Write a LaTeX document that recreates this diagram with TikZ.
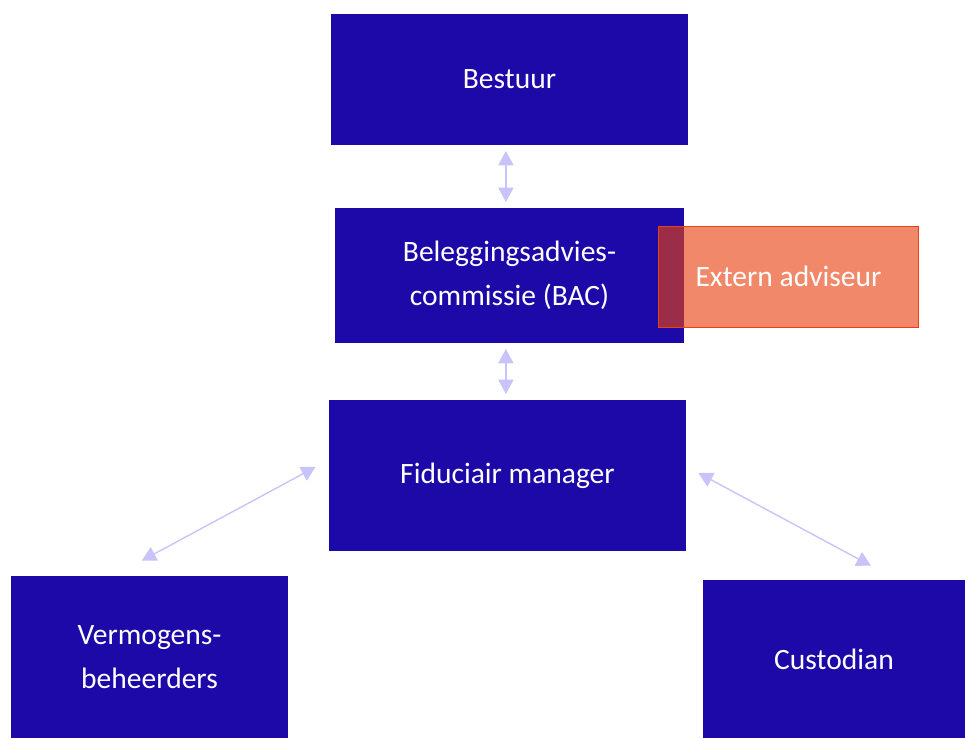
\documentclass[tikz,border=0pt]{standalone}
\usepackage{fontspec}
\setmainfont{Carlito}
\usetikzlibrary{arrows.meta,calc}
\definecolor{blauw}{RGB}{29,8,168}
\definecolor{zalm}{RGB}{231,67,17}
\definecolor{lila}{RGB}{200,196,250}
\begin{document}
\begin{tikzpicture}[
	x=0.025cm, y=-0.025cm,
	blok/.style={rectangle, fill=blauw, draw=none, text=white, align=center,
		inner sep=0pt, font=\fontsize{21}{31}\selectfont},
	extern/.style={rectangle, fill=zalm, fill opacity=0.63, draw=zalm,
		draw opacity=1, line width=0.7pt, text=white, text opacity=1,
		inner sep=0pt, font=\fontsize{21}{31}\selectfont},
	pijl/.style={line width=1pt, lila,
		{Triangle[width=0.38cm,length=0.36cm]}-{Triangle[width=0.38cm,length=0.36cm]}},
	]
	\useasboundingbox (0,0) rectangle (965,738);
	
	%% =========================================================
	%% blokken
	%% =========================================================
	\node[blok, minimum width=8.925cm, minimum height=3.275cm] (bestuur) at (509.5,79.5) {Bestuur};
	\node[blok, minimum width=8.725cm, minimum height=3.375cm] (bac) at (509.5,275.5)
		{Beleggingsadvies-\\commissie (BAC)};
	\node[blok, minimum width=8.925cm, minimum height=3.775cm] (fm) at (507.5,475.5) {Fiduciair manager};
	\node[blok, minimum width=6.925cm, minimum height=4.05cm] (vb) at (149.5,657)
		{Vermogens-\\beheerders};
	\node[blok, minimum width=6.55cm, minimum height=3.95cm] (cust) at (834,659) {Custodian};
	%% externe adviseur, half over de BAC
	\node[extern, minimum width=6.475cm, minimum height=2.525cm] (ext) at (788.5,276.5) {Extern adviseur};
	
	%% =========================================================
	%% verbindingen
	%% =========================================================
	\draw[pijl, shorten <=4pt, shorten >=4pt] ([xshift=-0.09cm]bestuur.south) -- ([xshift=-0.09cm]bestuur.south |- bac.north);
	\draw[pijl, shorten <=4pt, shorten >=4pt] ([xshift=-0.09cm]bac.south) -- ([xshift=-0.09cm]bac.south |- fm.north);
	\draw[pijl, shorten <=10.5pt, shorten >=22.5pt] ([yshift=0.39cm]fm.west) -- ([xshift=-0.89cm]vb.north);
	\draw[pijl, shorten <=9.7pt, shorten >=21pt] ([yshift=0.225cm]fm.east) -- ([xshift=1.575cm]cust.north);
	
\end{tikzpicture}
\end{document}
